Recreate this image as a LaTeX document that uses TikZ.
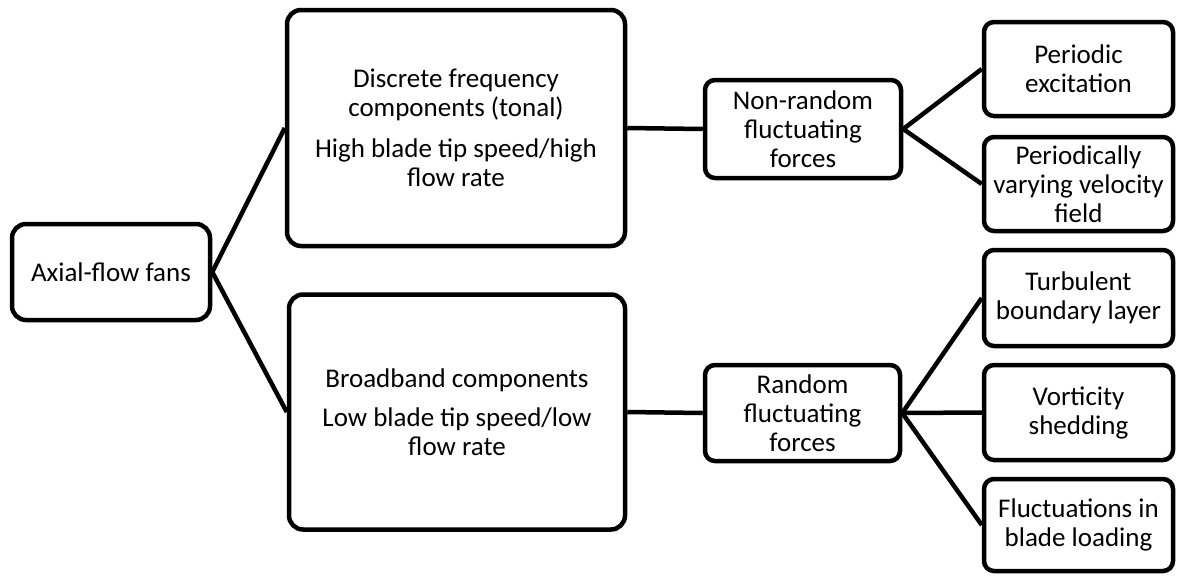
\documentclass[tikz,border=0pt]{standalone}
\usepackage{fontspec}
\setmainfont{Carlito}
\begin{document}
\begin{tikzpicture}[x=1pt,y=-1pt,
  box/.style={draw=black, line width=4.5pt, rounded corners=14pt, align=center,
    inner sep=0pt, font=\fontsize{27}{29}\selectfont},
  link/.style={line width=4.5pt}]
\useasboundingbox (0,0) rectangle (1177,576);
% root
\node[box, minimum width=198pt, minimum height=96pt] (fans) at (111,272) {Axial-flow fans};
% component classes
\node[box, minimum width=338pt, minimum height=236pt] (tonal) at (456,128)
  {Discrete frequency\\components (tonal)\\[12pt]High blade tip speed/high\\flow rate};
\node[box, minimum width=336pt, minimum height=235pt] (broad) at (457,412)
  {Broadband components\\[10pt]Low blade tip speed/low\\flow rate};
% force types
\node[box, rounded corners=10pt, minimum width=196pt, minimum height=98pt] (nonrand) at (803,129)
  {Non-random\\fluctuating\\forces};
\node[box, rounded corners=10pt, minimum width=195pt, minimum height=96pt] (rand) at (802.5,413)
  {Random\\fluctuating\\forces};
% sources
\node[box, rounded corners=10pt, minimum width=189pt, minimum height=94pt] (periodic) at (1078.5,69)
  {Periodic\\excitation};
\node[box, rounded corners=10pt, minimum width=189pt, minimum height=94pt] (pvel) at (1078.5,184)
  {Periodically\\varying velocity\\field};
\node[box, rounded corners=10pt, minimum width=189pt, minimum height=96pt] (turb) at (1078.5,298)
  {Turbulent\\boundary layer};
\node[box, rounded corners=10pt, minimum width=189pt, minimum height=95pt] (vort) at (1078.5,412.5)
  {Vorticity\\shedding};
\node[box, rounded corners=10pt, minimum width=189pt, minimum height=92pt] (fluct) at (1078.5,525)
  {Fluctuations in\\blade loading};
% connectors
\draw[link] (fans.east) -- (tonal.west);
\draw[link] (fans.east) -- (broad.west);
\draw[link] (tonal.east) -- (nonrand.west);
\draw[link] (broad.east) -- (rand.west);
\draw[link] (nonrand.east) -- (periodic.west);
\draw[link] (nonrand.east) -- (pvel.west);
\draw[link] (rand.east) -- (turb.west);
\draw[link] (rand.east) -- (vort.west);
\draw[link] (rand.east) -- (fluct.west);
\end{tikzpicture}
\end{document}
